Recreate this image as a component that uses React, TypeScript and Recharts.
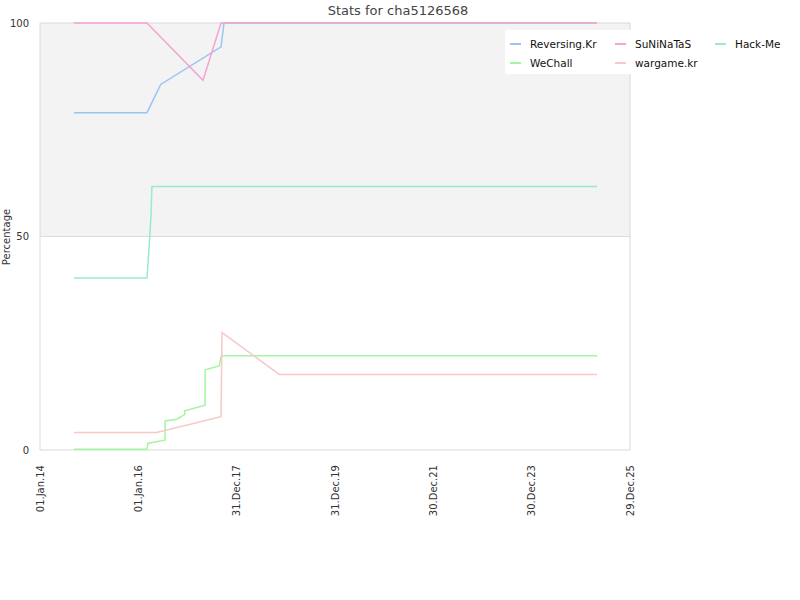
import {
  Line,
  LineChart,
  ReferenceArea,
  ReferenceLine,
  XAxis,
  YAxis,
} from "recharts";

const FONT = '"DejaVu Sans", sans-serif';

// x domain and the dated ticks (every 730 days)
const domainStart = "2014-01-01";
const domainEnd = "2025-12-29";
const tickDates = [
  "2014-01-01",
  "2016-01-01",
  "2017-12-31",
  "2019-12-31",
  "2021-12-30",
  "2023-12-30",
  "2025-12-29",
];

const seriesNames = ["Reversing.Kr", "SuNiNaTaS", "Hack-Me", "WeChall", "wargame.kr"];
const seriesColors = ["#99c5f5", "#f5a3d0", "#99ebc8", "#a3f5a0", "#f8c8c8"];

const reversingDates = ["2014-09-10", "2016-03-05", "2016-06-15", "2017-09-06", "2017-09-28", "2025-04-28"];
const reversingValues = [79, 79, 85.6, 94.4, 100, 100];

const suninatasDates = ["2014-09-10", "2016-03-05", "2017-04-25", "2017-09-06", "2025-04-28"];
const suninatasValues = [100, 100, 86.6, 100, 100];

const hackmeDates = ["2014-09-10", "2016-03-05", "2016-03-20", "2016-04-04", "2016-04-11", "2025-04-28"];
const hackmeValues = [40.3, 40.3, 47, 55, 61.7, 61.7];

const wechallDates = [
  "2014-09-10", "2016-03-05", "2016-03-13", "2016-07-17", "2016-07-18",
  "2016-10-12", "2016-12-10", "2016-12-11", "2017-05-10", "2017-05-11",
  "2017-08-24", "2017-09-06", "2017-10-05", "2025-04-28",
];
const wechallValues = [0.2, 0.2, 1.6, 2.3, 6.8, 7.2, 8.3, 9.2, 10.5, 18.8, 19.7, 21.9, 22.1, 22.1];

const wargameDates = ["2014-09-10", "2016-05-16", "2017-09-06", "2017-09-13", "2018-11-12", "2025-04-28"];
const wargameValues = [4.1, 4.1, 7.8, 27.5, 17.7, 17.7];

const MONTHS = ["Jan", "Feb", "Mar", "Apr", "May", "Jun", "Jul", "Aug", "Sep", "Oct", "Nov", "Dec"];

const ts = (s: string) => Date.parse(s + "T00:00:00Z");

const fmtDate = (t: number) => {
  const d = new Date(t);
  const dd = String(d.getUTCDate()).padStart(2, "0");
  const yy = String(d.getUTCFullYear() % 100).padStart(2, "0");
  return `${dd}.${MONTHS[d.getUTCMonth()]}.${yy}`;
};

const toRows = (dates: string[], values: number[]) =>
  dates.map((d, i) => ({ t: ts(d), v: values[i] }));

const series = [
  toRows(reversingDates, reversingValues),
  toRows(suninatasDates, suninatasValues),
  toRows(hackmeDates, hackmeValues),
  toRows(wechallDates, wechallValues),
  toRows(wargameDates, wargameValues),
];

// rotated date labels hanging under the axis
const XTick = ({ x, y, payload }: { x?: number; y?: number; payload?: { value: number } }) => (
  <g transform={`translate(${x},${y})`}>
    <text
      transform="rotate(-90)"
      x={-15}
      y={0}
      dy="0.35em"
      textAnchor="end"
      fontSize={10}
      fontFamily={FONT}
      fill="#333"
    >
      {payload ? fmtDate(payload.value) : ""}
    </text>
  </g>
);

// legend order: 3 columns, filled row by row
const legendCols = [5, 110, 210];

export default function App() {
  return (
    <div style={{ position: "absolute", left: 0, top: 0, width: 800, height: 600, background: "#fff" }}>
      <div
        style={{
          position: "absolute",
          top: 3,
          left: -2,
          width: 800,
          textAlign: "center",
          fontFamily: FONT,
          fontSize: 13,
          lineHeight: "15px",
          color: "#444",
        }}
      >
        Stats for cha5126568
      </div>
      <LineChart
        width={800}
        height={600}
        margin={{ top: 23, right: 170, bottom: 90, left: 0 }}
      >
        <ReferenceArea y1={50} y2={100} fill="#f3f3f3" fillOpacity={1} stroke="none" />
        <ReferenceLine y={50} stroke="#dcdcdc" />
        <ReferenceArea y1={0} y2={100} fill="none" stroke="#d9d9d9" />
        <XAxis
          dataKey="t"
          type="number"
          domain={[ts(domainStart), ts(domainEnd)]}
          ticks={tickDates.map(ts)}
          interval={0}
          tick={<XTick />}
          tickLine={false}
          axisLine={false}
          tickSize={0}
          tickMargin={0}
          height={60}
          allowDataOverflow
        />
        <YAxis
          type="number"
          domain={[0, 100]}
          ticks={[0, 50, 100]}
          interval={0}
          width={40}
          tickLine={false}
          axisLine={false}
          tickSize={0}
          tickMargin={11}
          tick={{ fontSize: 10, fill: "#333", fontFamily: FONT }}
          label={{
            content: () => (
              <text
                x={10}
                y={237}
                transform="rotate(-90, 10, 237)"
                textAnchor="middle"
                fontSize={10}
                fontFamily={FONT}
                fill="#333"
              >
                Percentage
              </text>
            ),
          }}
        />
        {series.map((rows, i) => (
          <Line
            key={seriesNames[i]}
            data={rows}
            dataKey="v"
            name={seriesNames[i]}
            type="linear"
            stroke={seriesColors[i]}
            strokeWidth={1.5}
            dot={false}
            activeDot={false}
            isAnimationActive={false}
          />
        ))}
      </LineChart>
      <div
        style={{
          position: "absolute",
          left: 505,
          top: 30,
          width: 290,
          height: 44,
          background: "#fff",
          fontFamily: FONT,
          fontSize: 10.5,
          color: "#111",
        }}
      >
        {seriesNames.map((name, i) => (
          <div
            key={name}
            style={{
              position: "absolute",
              left: legendCols[i % 3],
              top: 8 + Math.floor(i / 3) * 18.5,
              height: 12,
              display: "flex",
              alignItems: "center",
              whiteSpace: "nowrap",
            }}
          >
            <span
              style={{
                display: "inline-block",
                width: 11,
                height: 2,
                background: seriesColors[i],
                marginRight: 9,
              }}
            />
            <span>{name}</span>
          </div>
        ))}
      </div>
    </div>
  );
}
